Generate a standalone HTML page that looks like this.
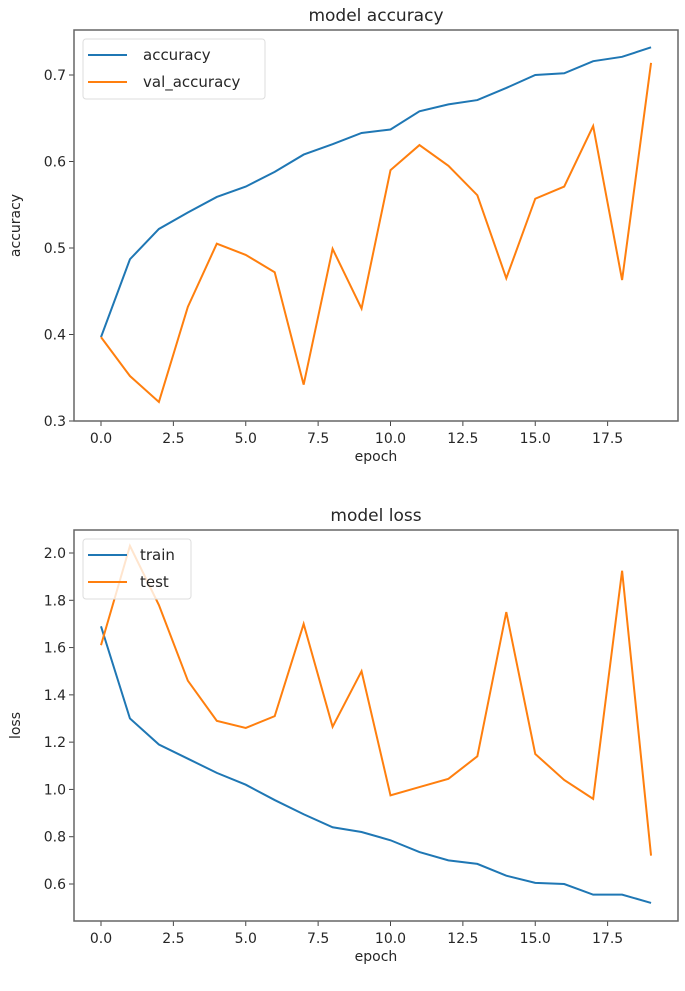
<!DOCTYPE html>
<html><head><meta charset="utf-8"><style>
body{margin:0;background:#fff;}
svg text{font-family:"DejaVu Sans","Liberation Sans",sans-serif;fill:#262626;}
</style></head><body>
<svg id="c" width="685" height="986"></svg>
<script>
const epochs=[0,1,2,3,4,5,6,7,8,9,10,11,12,13,14,15,16,17,18,19];
const accuracy=[0.397,0.487,0.522,0.541,0.559,0.571,0.588,0.608,0.62,0.633,0.637,0.658,0.666,0.671,0.685,0.7,0.702,0.716,0.721,0.732];
const valAccuracy=[0.397,0.352,0.322,0.432,0.505,0.492,0.472,0.342,0.499,0.430,0.590,0.619,0.595,0.561,0.465,0.557,0.571,0.641,0.463,0.714];
const trainLoss=[1.69,1.30,1.19,1.13,1.07,1.02,0.955,0.895,0.84,0.82,0.785,0.735,0.70,0.685,0.635,0.605,0.60,0.555,0.555,0.52];
const testLoss=[1.61,2.03,1.78,1.46,1.29,1.26,1.31,1.70,1.265,1.50,0.975,1.01,1.045,1.14,1.75,1.15,1.04,0.96,1.925,0.72];
const xTicks=[0,2.5,5,7.5,10,12.5,15,17.5];
const accTicks=[0.3,0.4,0.5,0.6,0.7];
const lossTicks=[0.6,0.8,1.0,1.2,1.4,1.6,1.8,2.0];

const svg=document.getElementById('c');
const NS='http://www.w3.org/2000/svg';
function mk(tag,attrs,parent){const e=document.createElementNS(NS,tag);for(const k in attrs)e.setAttribute(k,attrs[k]);(parent||svg).appendChild(e);return e;}
const xs=v=>101+v*28.95;

function panel(o){
  const g=mk('g',{});
  
  
  const y=v=>o.y0px+(v-o.y0)*(o.y1px-o.y0px)/(o.y1-o.y0);
  const t=mk('text',{x:376,y:o.top-9,'text-anchor':'middle','font-size':17},g);t.textContent=o.title;
  
  xTicks.forEach(v=>{mk('line',{x1:xs(v),x2:xs(v),y1:o.bot,y2:o.bot+5,stroke:'#444'},g);
    const tt=mk('text',{x:xs(v),y:o.bot+22,'text-anchor':'middle','font-size':14},g);tt.textContent=v.toFixed(1);
    });
  o.ticks.forEach(v=>{mk('line',{x1:69,x2:74,y1:y(v),y2:y(v),stroke:'#444'},g);
    const tt=mk('text',{x:66,y:y(v)+5,'text-anchor':'end','font-size':14},g);tt.textContent=v.toFixed(1);
    });
  const xl=mk('text',{x:376,y:o.bot+40,'text-anchor':'middle','font-size':14},g);xl.textContent='epoch';
  
  const cy=(o.top+o.bot)/2;
  const yl=mk('text',{x:20,y:cy,'text-anchor':'middle','font-size':14,transform:`rotate(-90 20 ${cy})`},g);yl.textContent=o.ylabel;
  
  o.series.forEach(s=>{
    const p=mk('polyline',{points:epochs.map((e,i)=>xs(e)+','+y(s.d[i])).join(' '),fill:'none',stroke:s.c,'stroke-width':2},g);
    
  });
  mk('rect',{x:74,y:o.top,width:604,height:o.bot-o.top,fill:'none',stroke:'#666','stroke-width':1.5},g);
  const lg=mk('g',{},g);
  mk('rect',{x:83,y:o.top+9,width:o.lw,height:60,rx:3,fill:'rgba(255,255,255,0.8)',stroke:'#ddd'},lg);
  o.series.forEach((s,i)=>{const ly=o.top+25+i*27;
    mk('line',{x1:88,x2:127,y1:ly,y2:ly,stroke:s.c,'stroke-width':2},lg);
    const lt=mk('text',{x:o.lx,y:ly+5,'font-size':15},lg);lt.textContent=s.label;
    });
}
panel({name:'accuracy-chart',title:'model accuracy',ylabel:'accuracy',top:30,bot:421,y0:0.3,y1:0.7,y0px:421,y1px:75,ticks:accTicks,lw:182,lx:143,
  series:[{d:accuracy,c:'#1f77b4',n:'accuracy',label:'accuracy'},{d:valAccuracy,c:'#ff7f0e',n:'val-accuracy',label:'val_accuracy'}]});
panel({name:'loss-chart',title:'model loss',ylabel:'loss',top:530,bot:921,y0:0.6,y1:2.0,y0px:884,y1px:553,ticks:lossTicks,lw:108,lx:140,
  series:[{d:trainLoss,c:'#1f77b4',n:'train-loss',label:'train'},{d:testLoss,c:'#ff7f0e',n:'test-loss',label:'test'}]});
</script>
</body></html>
